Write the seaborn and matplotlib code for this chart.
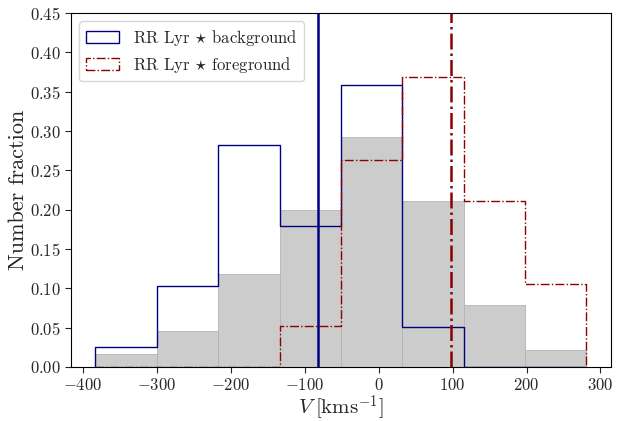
import numpy as np
import pandas as pd
import matplotlib
matplotlib.use("Agg")
import matplotlib.pyplot as plt
from matplotlib.patches import Patch
import seaborn as sns

# Data (bin edges and number fractions)
bin_edges = [-383, -300, -217, -134, -51, 32, 115, 198, 281]
all_frac = [0.016, 0.046, 0.118, 0.200, 0.292, 0.211, 0.079, 0.021]
bg_frac = [0.0256, 0.1026, 0.2821, 0.1795, 0.3590, 0.0513, 0.0, 0.0]
fg_frac = [0.0, 0.0, 0.0, 0.0526, 0.2632, 0.3684, 0.2105, 0.1053]
bg_median = -82
fg_median = 98
labels = [r"RR Lyr $\star$ background", r"RR Lyr $\star$ foreground"]

sns.set_theme(style="ticks")
plt.rcParams["font.family"] = ["serif"]
plt.rcParams["font.serif"] = ["cmr10"]
plt.rcParams["mathtext.fontset"] = "cm"
plt.rcParams["axes.formatter.use_mathtext"] = True

edges = np.array(bin_edges, dtype=float)
centers = 0.5 * (edges[:-1] + edges[1:])
df = pd.DataFrame({"V": centers, "all": all_frac, "bg": bg_frac, "fg": fg_frac})

fig = plt.figure(figsize=(6.17, 4.21), dpi=100)
ax = fig.add_axes([0.115, 0.1285, 0.875, 0.8405])

sns.histplot(data=df, x="V", weights="all", bins=list(bin_edges), ax=ax, stat="count",
             element="bars", color="#cccccc", alpha=1.0, edgecolor="#b4b4b4",
             linewidth=0.6)

def step(col, color, ls):
    sns.histplot(data=df, x="V", weights=col, bins=list(bin_edges), ax=ax, stat="count",
                 element="step", fill=False, color=color, linestyle=ls, linewidth=1.0)
    line = ax.lines[-1]
    xd, yd = line.get_data()
    xd = np.asarray(xd, float); yd = np.asarray(yd, float)
    line.set_data(np.r_[xd[0], xd, xd[-1]], np.r_[0, yd, 0])

step("bg", "navy", "-")
step("fg", "darkred", "-.")

ax.axvline(bg_median, color="navy", lw=1.8)
ax.axvline(fg_median, color="darkred", lw=1.8, ls="-.")

ax.set_xlim(-416, 314)
ax.set_ylim(0, 0.45)
ax.set_xticks([-400, -300, -200, -100, 0, 100, 200, 300])
ax.set_yticks(np.arange(0, 0.451, 0.05))
ax.yaxis.set_major_formatter(matplotlib.ticker.FuncFormatter(lambda v, p: f"${v:.2f}$"))
ax.xaxis.set_major_formatter(matplotlib.ticker.FuncFormatter(lambda v, p: f"${int(round(v))}$"))
ax.tick_params(labelsize=12, direction="out", length=4, width=0.8, pad=3)
ax.set_xlabel(r"$V\;[\mathrm{kms}^{-1}]$", fontsize=15, labelpad=0)
ax.set_ylabel("Number fraction", fontsize=16, labelpad=2)
for s in ax.spines.values():
    s.set_visible(True)
    s.set_linewidth(0.8)
    s.set_color("black")

handles = [Patch(facecolor="none", edgecolor="navy", linestyle="-", linewidth=1.0),
           Patch(facecolor="none", edgecolor="darkred", linestyle="-.", linewidth=1.0)]
ax.legend(handles, labels, loc="upper left", fontsize=12, frameon=True, fancybox=True,
          framealpha=0.8, edgecolor="#cccccc", labelspacing=0.4, borderaxespad=0.5)

fig.savefig("out.png", dpi=100)
